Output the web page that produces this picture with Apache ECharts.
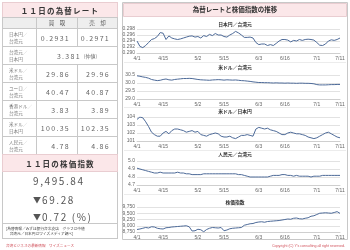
<!DOCTYPE html>
<html>
<head>
<meta charset="utf-8">
<script src="https://cdn.jsdelivr.net/npm/echarts@6/dist/echarts.min.js"></script>
<style>
html, body { margin: 0; padding: 0; background: #fff; }
#wrap { position: relative; width: 350px; height: 250px; overflow: hidden; font-family: "Noto Sans CJK JP", sans-serif; }
#chart { position: absolute; left: 0; top: 0; width: 350px; height: 250px; }
#left { position: absolute; left: 0; top: 0; width: 120px; height: 250px; }
.c { position: absolute; box-sizing: border-box; display: flex; align-items: center; color: #555; white-space: nowrap; }
.tri { font-size: 8px; letter-spacing: 1px; }
</style>
</head>
<body>
<div id="wrap">
  <div id="chart"></div>
  <div id="left"></div>
</div>
<script>
// --- 取引日 (2014/4/1 - 7/11) ---
const dates = ['4/1','4/2','4/3','4/7','4/8','4/9','4/10','4/11','4/14','4/15','4/16','4/17','4/18','4/21','4/22','4/23','4/24','4/25','4/28','4/29','4/30',
  '5/2','5/5','5/6','5/7','5/8','5/9','5/12','5/13','5/14','5/15','5/16','5/19','5/20','5/21','5/22','5/23','5/26','5/27','5/28','5/29','5/30',
  '6/3','6/4','6/5','6/6','6/9','6/10','6/11','6/12','6/13','6/16','6/17','6/18','6/19','6/20','6/23','6/24','6/25','6/26','6/27','6/30',
  '7/1','7/2','7/3','7/4','7/7','7/8','7/9','7/10','7/11'];
const dateTicks = ['4/1','4/15','5/2','5/15','6/3','6/16','7/1','7/11'];

// 日本円／台湾元
const jpyTwd = [0.2940,0.2922,0.2918,0.2925,0.2935,0.2945,0.2948,0.2955,0.2968,0.2966,0.2945,0.2957,0.2950,0.2947,0.2945,0.2947,0.2950,0.2953,0.2956,0.2957,0.2953,
  0.2955,0.2950,0.2958,0.2955,0.2962,0.2958,0.2965,0.2960,0.2960,0.2955,0.2953,0.2960,0.2965,0.2972,0.2967,0.2960,0.2952,0.2952,0.2953,0.2950,0.2935,
  0.2928,0.2930,0.2930,0.2925,0.2928,0.2925,0.2932,0.2940,0.2945,0.2945,0.2943,0.2937,0.2942,0.2940,0.2945,0.2942,0.2945,0.2946,0.2945,0.2943,
  0.2935,0.2926,0.2925,0.2930,0.2940,0.2944,0.2942,0.2945,0.2950];
// 米ドル／台湾元
const usdTwd = [30.45,30.42,30.38,30.35,30.30,30.22,30.18,30.15,30.17,30.22,30.25,30.20,30.18,30.22,30.24,30.26,30.28,30.28,30.29,30.28,30.25,
  30.22,30.20,30.19,30.18,30.17,30.19,30.20,30.21,30.20,30.18,30.20,30.19,30.18,30.19,30.17,30.15,30.14,30.12,30.10,30.07,30.05,
  30.03,30.03,30.02,30.02,30.01,30.00,30.01,30.00,30.00,29.99,30.00,29.99,29.99,29.98,29.99,29.99,29.98,29.98,29.97,29.95,
  29.90,29.88,29.88,29.88,29.89,29.90,29.90,29.91,29.91];
// 米ドル／日本円
const usdJpy = [103.7,104.0,103.9,103.4,102.8,102.1,101.8,101.6,101.6,102.0,102.2,101.9,102.3,102.5,102.5,102.4,102.3,102.1,102.2,102.3,102.1,
  102.2,101.8,101.7,101.6,101.8,101.9,102.0,101.9,101.6,101.5,101.5,101.6,101.4,101.3,101.5,101.7,101.7,101.8,101.7,101.6,102.5,
  102.7,102.6,102.5,102.6,102.4,102.3,102.2,102.0,101.8,101.8,102.0,102.1,102.0,101.9,101.9,101.8,101.7,101.5,101.4,101.3,
  101.4,101.6,101.8,102.0,102.1,101.9,101.7,101.5,101.4];
// 人民元／台湾元
const cnyTwd = [4.91,4.90,4.89,4.88,4.87,4.86,4.85,4.85,4.86,4.85,4.85,4.85,4.85,4.85,4.86,4.85,4.85,4.84,4.84,4.83,4.83,
  4.83,4.83,4.84,4.84,4.84,4.84,4.84,4.84,4.84,4.84,4.84,4.84,4.84,4.84,4.83,4.83,4.82,4.81,4.80,4.80,4.80,
  4.80,4.80,4.80,4.80,4.81,4.82,4.82,4.82,4.83,4.83,4.82,4.82,4.81,4.82,4.81,4.81,4.81,4.81,4.80,4.81,
  4.81,4.81,4.82,4.82,4.82,4.82,4.82,4.82,4.82];
// 株価指数
const taiex = [8850,8870,8900,8930,8910,8960,8950,8900,8880,8870,8920,8930,8950,8960,8970,8980,8990,9000,8960,8790,8800,
  8860,8840,8760,8850,8900,8930,8920,8910,8930,8800,8830,8880,8900,8910,8920,8930,9020,9050,9080,9090,9130,
  9150,9160,9140,9170,9180,9190,9200,9210,9230,9250,9270,9260,9300,9310,9280,9270,9300,9320,9380,9400,
  9450,9500,9510,9520,9510,9500,9530,9565,9496];

// --- 左側の表 ---
const rateNames = [['日本円／','台湾元'],['台湾元／','日本円'],['米ドル／','台湾元'],['ユーロ／','台湾元'],['香港ドル／','台湾元'],['米ドル／','日本円'],['人民元／','台湾元']];
const buyRates = ['0.2931','3.381 (仲値)','29.86','40.47','3.83','100.35','4.78'];
const sellRates = ['0.2971',null,'29.96','40.87','3.89','102.35','4.86'];
const indexValue = '9,495.84';
const indexChange = '▼69.28';
const indexPct = '▼0.72 (%)';

const COLORS = {
  line: '#4d6a98',
  grid: '#e2e2e2',
  text: '#666',
  frame: '#c8c8c8',
  pink: '#fbe7e9',
  pinkBorder: '#e9cdd1',
  head: '#eeeeee',
  red: '#d0505a'
};

const left = document.getElementById('left');
function cell(x, y, w, h, html, css) {
  const d = document.createElement('div');
  d.className = 'c';
  d.style.cssText = `left:${x}px;top:${y}px;width:${w}px;height:${h}px;` + (css || '');
  d.innerHTML = html;
  left.appendChild(d);
  return d;
}
const tri = s => s.replace('▼', '<span class="tri">▼</span>');
const bd = `border:1px solid ${COLORS.frame};`;
// 枠
cell(2, 2, 116, 237, '', bd);
cell(2, 2, 116, 16, '１１日の為替レート', `background:${COLORS.pink};border:1px solid ${COLORS.pinkBorder};justify-content:center;font-weight:bold;font-size:7.5px;letter-spacing:1.2px;color:#333;`);
cell(2, 17, 35, 12, '', bd + `background:${COLORS.head};`);
cell(36, 17, 42, 12, '買　取', bd + `background:${COLORS.head};justify-content:center;font-size:5.5px;`);
cell(77, 17, 41, 12, '売　却', bd + `background:${COLORS.head};justify-content:center;font-size:5.5px;`);
rateNames.forEach((nm, i) => {
  const y = 28 + i * 18;
  cell(2, y, 35, 19, nm[0] + '<br>' + nm[1], bd + 'font-size:4.6px;line-height:7px;padding-left:6px;color:#777;');
  const numCss = 'font-size:7px;letter-spacing:1.3px;justify-content:flex-end;padding-right:7px;color:#666;';
  if (sellRates[i] === null) {
    cell(36, y, 82, 19, buyRates[i].replace(' ', '&nbsp;').replace('(仲値)', '<span style="font-size:5px;letter-spacing:0">(仲値)</span>'), bd + numCss.replace('justify-content:flex-end;padding-right:7px;', 'justify-content:center;'));
  } else {
    cell(36, y, 42, 19, buyRates[i], bd + numCss);
    cell(77, y, 41, 19, sellRates[i], bd + numCss);
  }
});
cell(2, 154, 116, 18, '１１日の株価指数', `background:${COLORS.pink};border:1px solid ${COLORS.pinkBorder};justify-content:center;font-weight:bold;font-size:7.5px;letter-spacing:1.2px;color:#333;`);
const bigCss = 'padding-left:31px;font-size:10px;letter-spacing:1.6px;color:#555;';
cell(2, 172, 116, 17, indexValue, bigCss);
cell(2, 191, 116, 17, tri(indexChange), bigCss);
cell(2, 208, 116, 17, tri(indexPct), bigCss);
cell(2, 223, 116, 16, '[為替情報／みずほ銀行台北支店　グラフは中値<br>　台湾元／日本円はワイズメディア調べ]', bd + 'font-size:3.7px;line-height:5px;padding-left:3px;color:#444;');
cell(6, 242, 100, 7, '台湾ビジネスの最新情報　ワイズニュース', 'font-size:3.6px;color:' + COLORS.red + ';');

// --- 右側のグラフ ---
const fmtComma = v => Math.round(v).toString().replace(/\B(?=(\d{3})+(?!\d))/g, ',');
const panels = [
  { title: '日本円／台湾元', data: jpyTwd, min: 0.290, max: 0.298, interval: 0.002, fmt: v => v.toFixed(3), top: 29, h: 24, ty: 24 },
  { title: '米ドル／台湾元', data: usdTwd, min: 29.0, max: 30.5, interval: 0.5, fmt: v => v.toFixed(1), top: 75, h: 24, ty: 67 },
  { title: '米ドル／日本円', data: usdJpy, min: 101, max: 104, interval: 1, fmt: v => v.toFixed(0), top: 117, h: 24, ty: 111 },
  { title: '人民元／台湾元', data: cnyTwd, min: 4.7, max: 5.0, interval: 0.1, fmt: v => v.toFixed(1), top: 161, h: 24, ty: 154 },
  { title: '株価指数', data: taiex, min: 8750, max: 9750, interval: 250, fmt: fmtComma, top: 207, h: 25, ty: 202 }
];

const myChart = echarts.init(document.getElementById('chart'));
const graphics = [
  { type: 'rect', shape: { x: 122.5, y: 2.5, width: 225, height: 237 }, style: { fill: '#fff', stroke: COLORS.frame, lineWidth: 1 }, z: -10 },
  { type: 'rect', shape: { x: 123.5, y: 3.5, width: 223, height: 13 }, style: { fill: COLORS.pink, stroke: COLORS.pinkBorder, lineWidth: 1 }, z: -9 },
  { type: 'text', x: 235, y: 10, style: { text: '為替レートと株価指数の推移', align: 'center', verticalAlign: 'middle', font: 'bold 6.5px "Noto Sans CJK JP"', fill: '#333' } },
  { type: 'text', x: 345, y: 246, style: { text: "Copyright (C) Y's consulting all right reserved.", align: 'right', verticalAlign: 'middle', font: '3.6px "Liberation Sans"', fill: COLORS.red } }
];
[62, 107, 150, 194].forEach(y => {
  graphics.push({ type: 'line', shape: { x1: 124, y1: y + 0.5, x2: 346, y2: y + 0.5 }, style: { stroke: '#ececec', lineWidth: 1 }, z: -8 });
});
panels.forEach(p => {
  graphics.push({ type: 'text', x: 235, y: p.ty, style: { text: p.title, align: 'center', verticalAlign: 'middle', font: 'bold 4.8px "Noto Sans CJK JP"', fill: '#333' } });
});

const option = {
  backgroundColor: 'transparent',
  animation: false,
  graphic: graphics,
  grid: panels.map(p => ({ left: 137, right: 10, top: p.top, height: p.h })),
  xAxis: panels.map((p, i) => ({
    type: 'category',
    gridIndex: i,
    data: dates,
    boundaryGap: false,
    axisLine: { show: true, lineStyle: { color: '#cfcfcf', width: 1 } },
    axisTick: { show: false },
    splitLine: { show: false },
    axisLabel: {
      interval: (idx, val) => dateTicks.includes(val),
      showMinLabel: true,
      showMaxLabel: true,
      hideOverlap: false,
      color: COLORS.text,
      fontSize: 5,
      fontFamily: 'Liberation Sans',
      margin: 3
    }
  })),
  yAxis: panels.map((p, i) => ({
    type: 'value',
    gridIndex: i,
    min: p.min,
    max: p.max,
    interval: p.interval,
    axisLine: { show: false },
    axisTick: { show: false },
    splitLine: { show: true, lineStyle: { color: COLORS.grid, width: 1 } },
    axisLabel: { color: COLORS.text, fontSize: 5, fontFamily: 'Liberation Sans', margin: 2, formatter: p.fmt }
  })),
  series: panels.map((p, i) => ({
    type: 'line',
    xAxisIndex: i,
    yAxisIndex: i,
    data: p.data,
    showSymbol: false,
    lineStyle: { width: 1, color: COLORS.line },
    itemStyle: { color: COLORS.line }
  }))
};
myChart.setOption(option);
</script>
</body>
</html>
